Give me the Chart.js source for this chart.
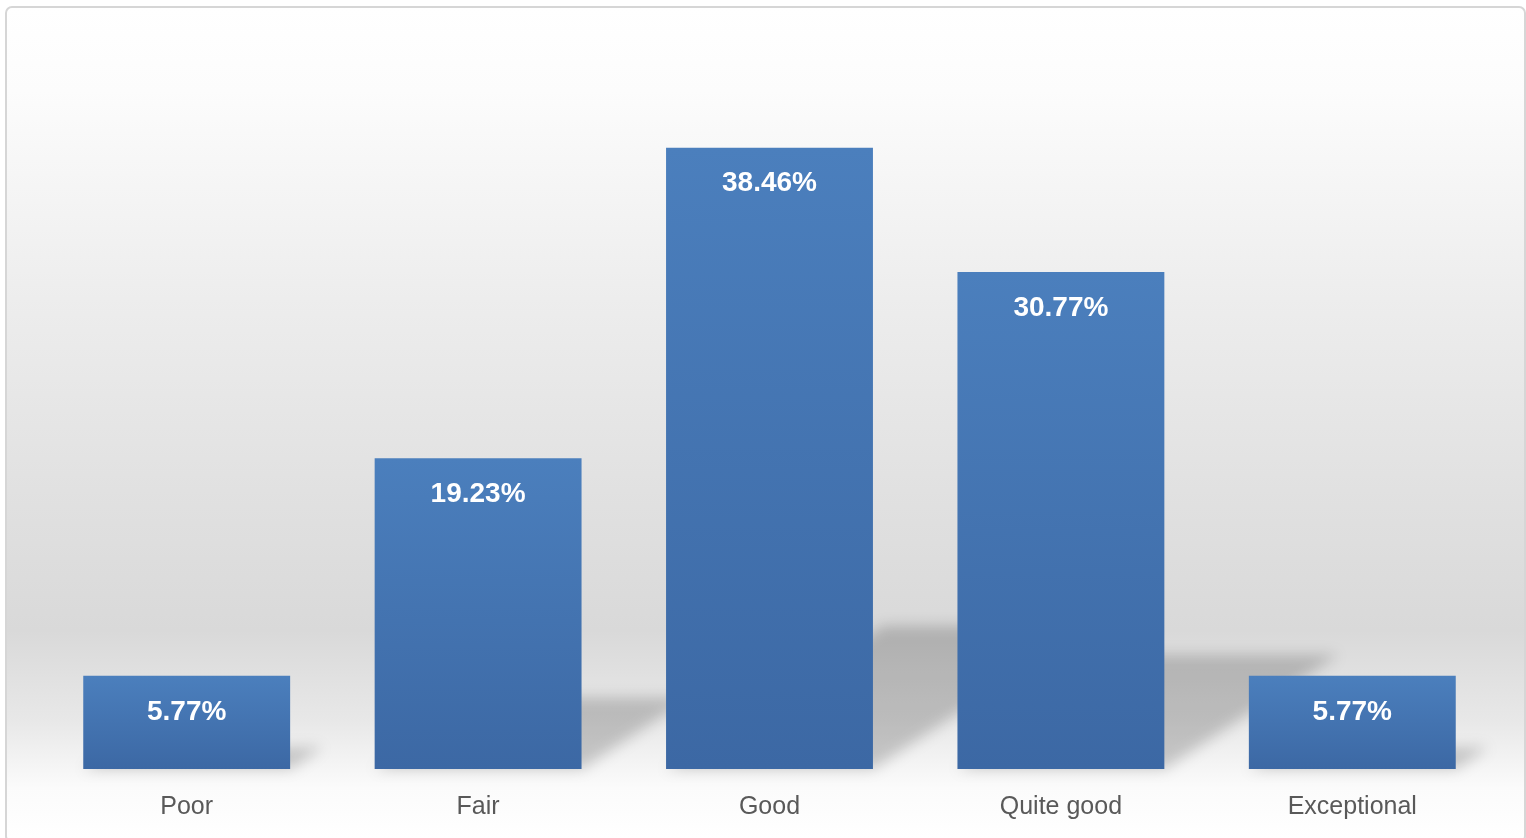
<!DOCTYPE html>
<html>
<head>
<meta charset="utf-8">
<script src="https://cdn.jsdelivr.net/npm/chart.js@4/dist/chart.umd.min.js"></script>
<style>
  html, body { margin: 0; padding: 0; background: #ffffff; }
  #wrap { width: 1526px; height: 838px; position: relative; }
  canvas { display: block; }
</style>
</head>
<body>
<div id="wrap"><canvas id="c" width="1526" height="838"></canvas></div>
<script>
const categories = ["Poor", "Fair", "Good", "Quite good", "Exceptional"];
const percentages = [5.77, 19.23, 38.46, 30.77, 5.77];
const valueLabels = ["5.77%", "19.23%", "38.46%", "30.77%", "5.77%"];

const backgroundPlugin = {
  id: 'bgFrame',
  beforeDraw(chart) {
    const ctx = chart.ctx;
    const W = chart.width, H = chart.height;
    ctx.save();
    ctx.fillStyle = '#ffffff';
    ctx.fillRect(0, 0, W, H);
    const x0 = 6, y0 = 7, x1 = 1525, y1 = H + 4;
    const g = ctx.createLinearGradient(0, y0, 0, H);
    g.addColorStop(0.00, '#ffffff');
    g.addColorStop(0.10, '#fcfcfc');
    g.addColorStop(0.35, '#ededed');
    g.addColorStop(0.60, '#e0e0e0');
    g.addColorStop(0.75, '#d9d9d9');
    g.addColorStop(0.86, '#e8e8e8');
    g.addColorStop(0.94, '#fbfbfb');
    g.addColorStop(1.00, '#ffffff');
    ctx.beginPath();
    ctx.roundRect(x0, y0, x1 - x0, y1 - y0, 6);
    ctx.fillStyle = g;
    ctx.fill();
    ctx.lineWidth = 2;
    ctx.strokeStyle = '#d6d6d6';
    ctx.stroke();
    ctx.restore();
  }
};

const shadowPlugin = {
  id: 'barShadows',
  beforeDatasetsDraw(chart) {
    const ctx = chart.ctx;
    const meta = chart.getDatasetMeta(0);
    ctx.save();
    ctx.filter = 'blur(7px)';
    ctx.fillStyle = 'rgba(0,0,0,0.19)';
    meta.data.forEach(bar => {
      const p = bar.getProps(['x', 'y', 'base', 'width'], true);
      const xl = p.x - p.width / 2, xr = p.x + p.width / 2;
      const h = p.base - p.y;
      const dx = 0.35 * h, dy = 0.23 * h;
      ctx.beginPath();
      ctx.moveTo(xl, p.base);
      ctx.lineTo(xr, p.base);
      ctx.lineTo(xr + dx, p.base - dy);
      ctx.lineTo(xl + dx, p.base - dy);
      ctx.closePath();
      ctx.fill();
    });
    ctx.restore();
  }
};

const labelPlugin = {
  id: 'valueLabels',
  afterDatasetsDraw(chart) {
    const ctx = chart.ctx;
    const meta = chart.getDatasetMeta(0);
    ctx.save();
    ctx.font = 'bold 28px "Liberation Sans", Arial, sans-serif';
    ctx.fillStyle = '#ffffff';
    ctx.textAlign = 'center';
    ctx.textBaseline = 'middle';
    meta.data.forEach((bar, i) => {
      const p = bar.getProps(['x', 'y'], true);
      ctx.fillText(valueLabels[i], p.x, p.y + 36);
    });
    ctx.restore();
  }
};

function barGradient(context) {
  const chart = context.chart;
  const area = chart.chartArea;
  if (!area || !chart.scales.y) return '#4678b4';
  const v = context.raw;
  const yTop = chart.scales.y.getPixelForValue(v);
  const yBase = chart.scales.y.getPixelForValue(0);
  if (!isFinite(yTop) || !isFinite(yBase) || yBase - yTop < 1) return '#4678b4';
  const g = chart.ctx.createLinearGradient(0, yTop, 0, yBase);
  g.addColorStop(0, '#4b7fbd');
  g.addColorStop(1, '#3c68a4');
  return g;
}

new Chart(document.getElementById('c'), {
  type: 'bar',
  data: {
    labels: categories,
    datasets: [{
      data: percentages,
      backgroundColor: barGradient,
      borderWidth: 0,
      categoryPercentage: 1.0,
      barPercentage: 0.71
    }]
  },
  options: {
    responsive: false,
    animation: false,
    devicePixelRatio: 1,
    layout: { padding: { left: 41, right: 28, top: 42, bottom: 0 } },
    plugins: {
      legend: { display: false },
      tooltip: { enabled: false },
      title: { display: false }
    },
    scales: {
      x: {
        grid: { display: false },
        border: { display: false },
        ticks: {
          color: '#595959',
          padding: 15,
          font: { family: '"Liberation Sans", Arial, sans-serif', size: 25 }
        },
        afterFit(scale) { scale.height = 69; }
      },
      y: {
        display: false,
        min: 0,
        max: 45
      }
    }
  },
  plugins: [backgroundPlugin, shadowPlugin, labelPlugin]
});
</script>
</body>
</html>
